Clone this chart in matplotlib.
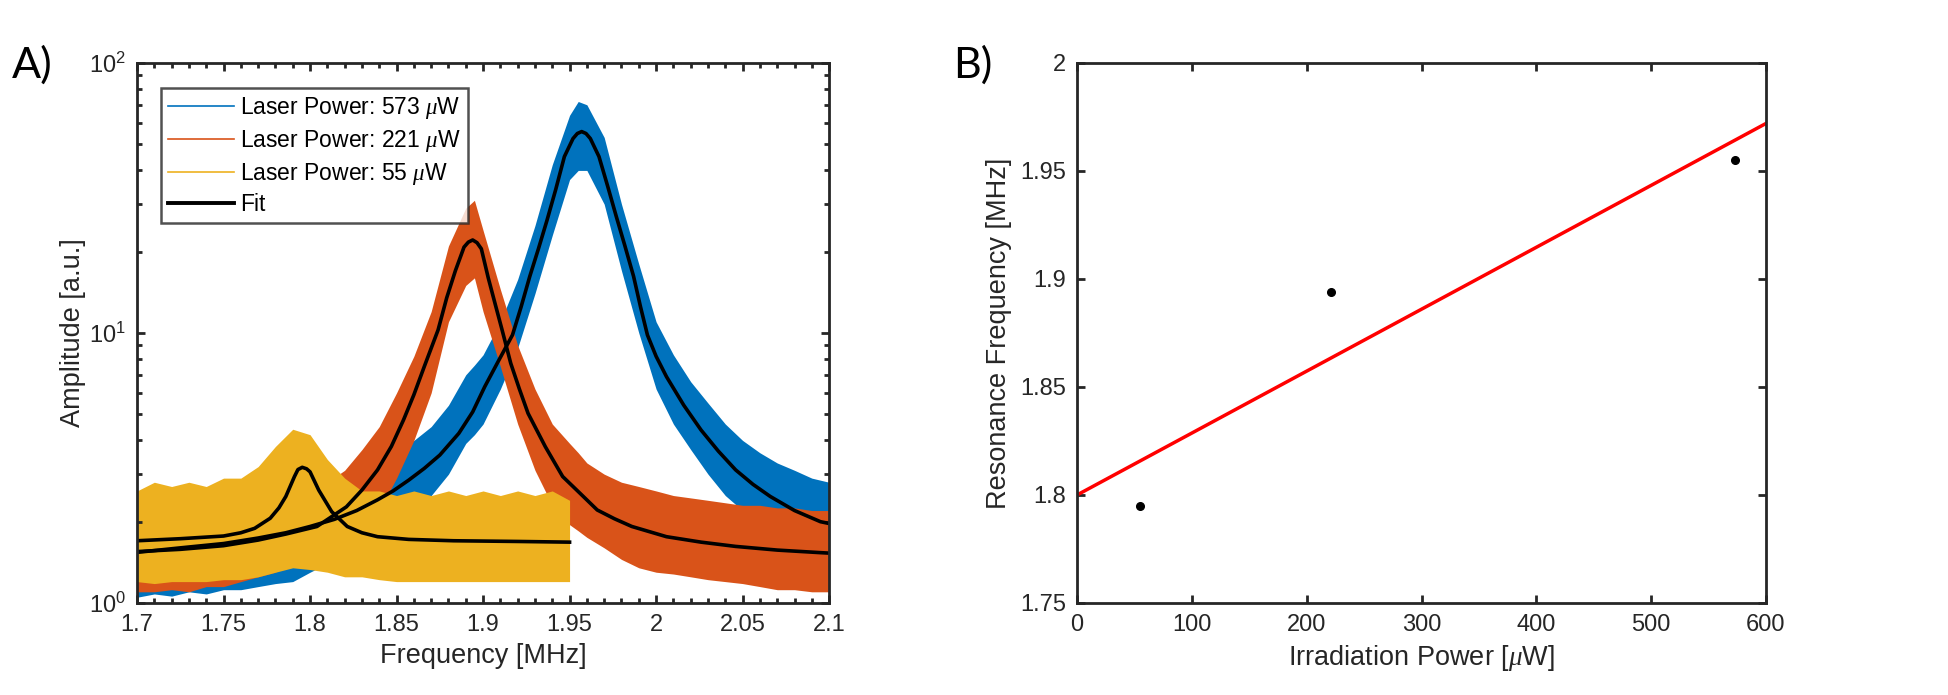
import matplotlib
matplotlib.use("Agg")
import matplotlib.pyplot as plt
from matplotlib.lines import Line2D
from matplotlib.ticker import LogLocator, NullFormatter

plt.rcParams['font.family'] = ['Liberation Sans', 'DejaVu Sans']
plt.rcParams['mathtext.fontset'] = 'custom'
plt.rcParams['mathtext.it'] = 'Liberation Serif:italic'

# ---- panel A: measured spectra (read as lower / upper edge of the noisy band)
freq_grid = [1.70, 1.71, 1.72, 1.73, 1.74, 1.75, 1.76, 1.77, 1.78, 1.79, 1.80,
             1.81, 1.82, 1.83, 1.84, 1.85, 1.86, 1.87, 1.88, 1.89, 1.895, 1.90,
             1.91, 1.92, 1.93, 1.94, 1.95, 1.955, 1.96, 1.97, 1.98, 1.99, 2.00,
             2.01, 2.02, 2.03, 2.04, 2.05, 2.06, 2.07, 2.08, 2.09, 2.10]

blue_low = [1.05, 1.08, 1.06, 1.1, 1.08, 1.12, 1.12, 1.15, 1.18, 1.2, 1.3,
            1.4, 1.5, 1.6, 1.8, 2.0, 2.2, 2.5, 3.0, 3.9, 4.2, 4.6,
            6.2, 8.8, 14.0, 23.0, 37.0, 40.0, 40.0, 30.0, 17.0, 10.0, 6.2,
            4.6, 3.7, 3.0, 2.5, 2.2, 2.0, 1.8, 1.7, 1.6, 1.55]
blue_high = [2.0, 2.1, 2.0, 2.1, 2.1, 2.2, 2.2, 2.3, 2.3, 2.4, 2.5,
             2.6, 2.8, 3.0, 3.3, 3.6, 4.0, 4.5, 5.4, 7.0, 7.6, 8.3,
             11.0, 15.8, 25.0, 42.0, 64.0, 72.0, 70.0, 53.0, 30.0, 18.0, 11.0,
             8.3, 6.6, 5.5, 4.6, 4.0, 3.6, 3.3, 3.1, 2.9, 2.8]

orange_low = [1.1, 1.1, 1.12, 1.1, 1.15, 1.15, 1.2, 1.25, 1.3, 1.4, 1.45,
              1.55, 1.65, 1.8, 2.2, 2.9, 4.0, 6.0, 11.0, 15.0, 16.0, 12.0,
              7.5, 4.6, 3.1, 2.3, 1.95, 1.85, 1.75, 1.6, 1.45, 1.35, 1.3,
              1.28, 1.25, 1.22, 1.2, 1.18, 1.15, 1.12, 1.12, 1.1, 1.1]
orange_high = [2.0, 2.0, 2.1, 2.0, 2.0, 2.1, 2.1, 2.2, 2.3, 2.4, 2.6,
               2.8, 3.1, 3.7, 4.5, 6.0, 8.2, 12.0, 21.0, 29.0, 31.0, 24.0,
               14.5, 9.0, 6.2, 4.6, 3.9, 3.6, 3.3, 3.0, 2.8, 2.7, 2.6,
               2.5, 2.45, 2.4, 2.35, 2.3, 2.3, 2.25, 2.25, 2.2, 2.2]

yellow_freq = [1.70, 1.71, 1.72, 1.73, 1.74, 1.75, 1.76, 1.77, 1.78, 1.79, 1.80,
               1.81, 1.82, 1.83, 1.84, 1.85, 1.86, 1.87, 1.88, 1.89, 1.90,
               1.91, 1.92, 1.93, 1.94, 1.95]
yellow_low = [1.2, 1.18, 1.2, 1.2, 1.2, 1.22, 1.22, 1.25, 1.3, 1.35, 1.33,
              1.3, 1.25, 1.25, 1.22, 1.2, 1.2, 1.2, 1.2, 1.2, 1.2,
              1.2, 1.2, 1.2, 1.2, 1.2]
yellow_high = [2.6, 2.8, 2.7, 2.8, 2.7, 2.9, 2.9, 3.2, 3.8, 4.4, 4.2,
               3.4, 2.9, 2.6, 2.6, 2.5, 2.6, 2.5, 2.6, 2.5, 2.6,
               2.5, 2.6, 2.5, 2.6, 2.4]

# ---- panel A: fit curves
blue_fit_f = [1.700, 1.725, 1.750, 1.770, 1.786, 1.800, 1.814, 1.827, 1.839,
              1.848, 1.857, 1.866, 1.875, 1.886, 1.894, 1.901, 1.909, 1.917,
              1.922, 1.927, 1.932, 1.937, 1.942, 1.947, 1.952, 1.9545, 1.957,
              1.9595, 1.962, 1.967, 1.972, 1.977, 1.982, 1.987, 1.991, 1.995,
              2.000, 2.006, 2.016, 2.026, 2.036, 2.046, 2.056, 2.066, 2.080,
              2.095, 2.100]
blue_fit_a = [1.54, 1.60, 1.66, 1.74, 1.82, 1.92, 2.04, 2.20, 2.41,
              2.60, 2.85, 3.15, 3.53, 4.25, 5.1, 6.33, 7.9, 9.83,
              12.5, 16.2, 20.5, 26.2, 34.0, 45.0, 52.5, 54.8, 55.7,
              54.8, 52.5, 45.0, 35.0, 27.0, 21.0, 16.2, 12.5, 9.83,
              8.2, 6.89, 5.4, 4.37, 3.65, 3.11, 2.75, 2.48, 2.2,
              2.0, 1.97]

orange_fit_f = [1.700, 1.725, 1.750, 1.770, 1.786, 1.804, 1.821, 1.830, 1.839,
                1.847, 1.854, 1.860, 1.866, 1.874, 1.879, 1.884, 1.889, 1.8915,
                1.894, 1.8965, 1.899, 1.903, 1.907, 1.911, 1.916, 1.921, 1.926,
                1.936, 1.946, 1.956, 1.966, 1.976, 1.986, 2.006, 2.026, 2.046,
                2.070, 2.095, 2.100]
orange_fit_a = [1.55, 1.58, 1.63, 1.71, 1.80, 1.92, 2.27, 2.62, 3.11,
                3.8, 4.76, 5.9, 7.5, 10.26, 13.5, 17.0, 20.8, 21.7,
                22.1, 21.6, 20.5, 16.0, 12.8, 10.26, 7.72, 6.2, 5.04,
                3.79, 2.94, 2.55, 2.21, 2.05, 1.92, 1.76, 1.68, 1.62,
                1.57, 1.536, 1.53]

yellow_fit_f = [1.700, 1.725, 1.750, 1.760, 1.768, 1.777, 1.782, 1.786, 1.791,
                1.793, 1.7955, 1.798, 1.800, 1.805, 1.8125, 1.8215, 1.830,
                1.839, 1.857, 1.883, 1.920, 1.950]
yellow_fit_a = [1.70, 1.73, 1.77, 1.82, 1.89, 2.06, 2.25, 2.48, 2.94,
                3.12, 3.18, 3.14, 3.06, 2.62, 2.18, 1.92, 1.82,
                1.76, 1.72, 1.70, 1.69, 1.68]

trace_labels = [r'Laser Power: 573 $\mu$W', r'Laser Power: 221 $\mu$W',
                r'Laser Power: 55 $\mu$W', 'Fit']
freq_ticks = [1.7, 1.75, 1.8, 1.85, 1.9, 1.95, 2.0, 2.05, 2.1]
freq_tick_labels = ['1.7', '1.75', '1.8', '1.85', '1.9', '1.95', '2', '2.05', '2.1']

# ---- panel B
power = [55, 221, 573]
res_freq = [1.795, 1.894, 1.955]
line_power = [0, 600]
line_freq = [1.800, 1.972]
res_ticks = [1.75, 1.8, 1.85, 1.9, 1.95, 2.0]
res_tick_labels = ['1.75', '1.8', '1.85', '1.9', '1.95', '2']
power_ticks = [0, 100, 200, 300, 400, 500, 600]

c_blue = '#0072BD'
c_orange = '#D95319'
c_yellow = '#EDB120'
spine_col = '#262626'

fig = plt.figure(figsize=(19.49, 6.95), dpi=100)
ax1 = fig.add_axes([0.0703, 0.1324, 0.3551, 0.777])
ax2 = fig.add_axes([0.5526, 0.1324, 0.3535, 0.777])

ax1.fill_between(freq_grid, blue_low, blue_high, color=c_blue, lw=0)
ax1.fill_between(freq_grid, orange_low, orange_high, color=c_orange, lw=0)
ax1.fill_between(yellow_freq, yellow_low, yellow_high, color=c_yellow, lw=0)
ax1.plot(blue_fit_f, blue_fit_a, color='k', lw=2.6)
ax1.plot(orange_fit_f, orange_fit_a, color='k', lw=2.6)
ax1.plot(yellow_fit_f, yellow_fit_a, color='k', lw=2.6)

ax1.set_yscale('log')
ax1.set_xlim(1.7, 2.1)
ax1.set_ylim(1, 100)
ax1.set_xticks(freq_ticks)
ax1.set_xticklabels(freq_tick_labels)
ax1.set_xticks([1.7 + 0.01 * i for i in range(41)], minor=True)
ax1.yaxis.set_minor_locator(LogLocator(base=10, subs=range(2, 10)))
ax1.yaxis.set_minor_formatter(NullFormatter())
ax1.set_xlabel('Frequency [MHz]', fontsize=19.5, labelpad=5)
ax1.set_ylabel('Amplitude [a.u.]', fontsize=19.5, labelpad=2)

handles = [Line2D([], [], color=c_blue, lw=1.2),
           Line2D([], [], color=c_orange, lw=1.2),
           Line2D([], [], color=c_yellow, lw=1.2),
           Line2D([], [], color='k', lw=2.8)]
leg = ax1.legend(handles, trace_labels, loc='upper left', fontsize=16.5,
                 frameon=True, fancybox=False, handlelength=2.9,
                 handletextpad=0.25, borderpad=0.3, labelspacing=0.3,
                 bbox_to_anchor=(0.018, 0.975))
leg.get_frame().set_edgecolor(spine_col)
leg.get_frame().set_linewidth(1.8)

ax2.plot(line_power, line_freq, color='red', lw=2.5)
ax2.plot(power, res_freq, 'o', color='k', markersize=5.5)
ax2.set_xlim(0, 600)
ax2.set_ylim(1.75, 2.0)
ax2.set_xticks(power_ticks)
ax2.set_yticks(res_ticks)
ax2.set_yticklabels(res_tick_labels)
ax2.set_xlabel(r'Irradiation Power [$\mu$W]', fontsize=19.5, labelpad=5)
ax2.set_ylabel('Resonance Frequency [MHz]', fontsize=19.5, labelpad=6)

for ax in (ax1, ax2):
    for s in ax.spines.values():
        s.set_color(spine_col)
        s.set_linewidth(2)
    ax.tick_params(which='both', direction='in', top=True, right=True,
                   color=spine_col, width=2, labelsize=17, labelcolor=spine_col)
    ax.tick_params(which='major', length=6, pad=8)
    ax.tick_params(which='minor', length=3.5)
    ax.xaxis.label.set_color(spine_col)
    ax.yaxis.label.set_color(spine_col)

fig.text(0.0165, 0.906, 'A)', fontsize=31, family=['Lato', 'DejaVu Sans'],
         ha='center', va='center')
fig.text(0.499, 0.906, 'B)', fontsize=31, family=['Lato', 'DejaVu Sans'],
         ha='center', va='center')

fig.savefig('out.png', dpi=100)
